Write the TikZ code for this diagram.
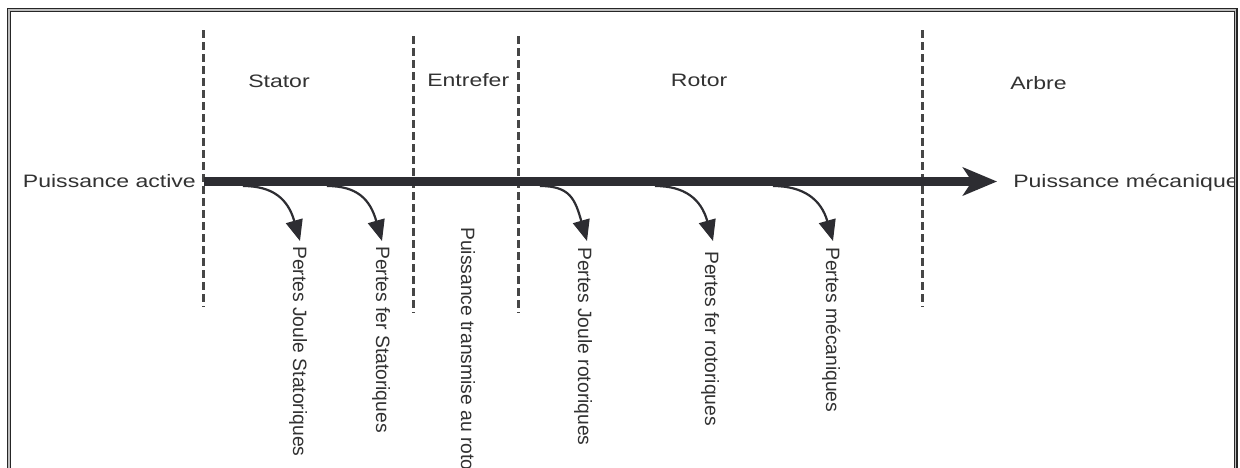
\documentclass[tikz,border=0pt]{standalone}
\usepackage{fontspec}
\setmainfont{Liberation Sans}
\usetikzlibrary{arrows.meta,calc}
\definecolor{ink}{RGB}{45,45,50}
\definecolor{txt}{RGB}{50,50,50}
\definecolor{dashc}{RGB}{70,70,70}
\definecolor{frameband}{RGB}{190,190,190}
\begin{document}
\begin{tikzpicture}[x=1pt,y=-1pt,
  hlab/.style={font=\fontsize{18}{20}\selectfont, text=txt, inner sep=0pt, anchor=base west, xscale=1.28},
  vlab/.style={font=\fontsize{19.3}{21}\selectfont, text=txt, inner sep=0pt, anchor=base west, rotate=-90},
  sepline/.style={dashc, line width=2.2pt, dash pattern=on 8pt off 4pt},
  flow/.style={ink, line width=9.5pt, -{Stealth[length=34pt,width=28pt,inset=9pt]}},
  loss/.style={ink, line width=2.2pt, -{Triangle[length=21pt,width=17pt]}},
  frameout/.style={draw=black!85, line width=1.6pt},
  framemid/.style={draw=frameband, line width=1.4pt},
  framein/.style={draw=black!85, line width=1pt}]
\useasboundingbox (0,0) rectangle (1240,467);
\fill[white] (0,0) rectangle (1240,467);
% frame (bottom edge lies below the picture)
\draw[frameout] (7.3,8.3) rectangle (1236.7,480);
\draw[framemid] (8.8,9.8) rectangle (1235.3,480);
\draw[framein] (10.3,11.3) rectangle (1234,480);
% separators
\draw[sepline] (203.5,30) -- (203.5,307);
\draw[sepline] (413.5,36) -- (413.5,313);
\draw[sepline] (518.5,36) -- (518.5,313);
\draw[sepline] (922.5,30) -- (922.5,307);
% zone labels
\node[hlab] (stator) at (248,87.3) {Stator};
\node[hlab] (entrefer) at (427,86.7) {Entrefer};
\node[hlab] (rotor) at (670.7,86.7) {Rotor};
\node[hlab] (arbre) at (1010,89.3) {Arbre};
% input / output
\node[hlab] (pa) at (22.7,187.3) {Puissance active};
\begin{scope}
\clip (10.3,11.3) rectangle (1233,470);
\node[hlab] (pm) at (1013,187) {Puissance mécanique};
\end{scope}
\coordinate (fin) at (204,181.5);
\coordinate (fout) at (997,181.5);
\draw[flow] (fin) -- (fout);
% losses
\coordinate (s1) at (243,186); \coordinate (t1) at (300,241);
\coordinate (s2) at (327,186); \coordinate (t2) at (382,241);
\coordinate (s3) at (540,186); \coordinate (t3) at (587,241);
\coordinate (s4) at (655,186); \coordinate (t4) at (713,241);
\coordinate (s5) at (773,186); \coordinate (t5) at (833,241);
\foreach \i in {1,...,5}{
  \draw[loss] (s\i) .. controls ($(s\i)+(30,0)$) and ($(t\i)+(-12,-42)$) .. (t\i);
}
\node[vlab] (l1) at (293,246) {Pertes Joule Statoriques};
\node[vlab] (l2) at (376,246) {Pertes fer Statoriques};
\node[vlab] (l3) at (461,227) {Puissance transmise au rotor};
\node[vlab] (l4) at (578,247) {Pertes Joule rotoriques};
\node[vlab] (l5) at (705,251) {Pertes fer rotoriques};
\node[vlab] (l6) at (826,247) {Pertes mécaniques};
\end{tikzpicture}
\end{document}
